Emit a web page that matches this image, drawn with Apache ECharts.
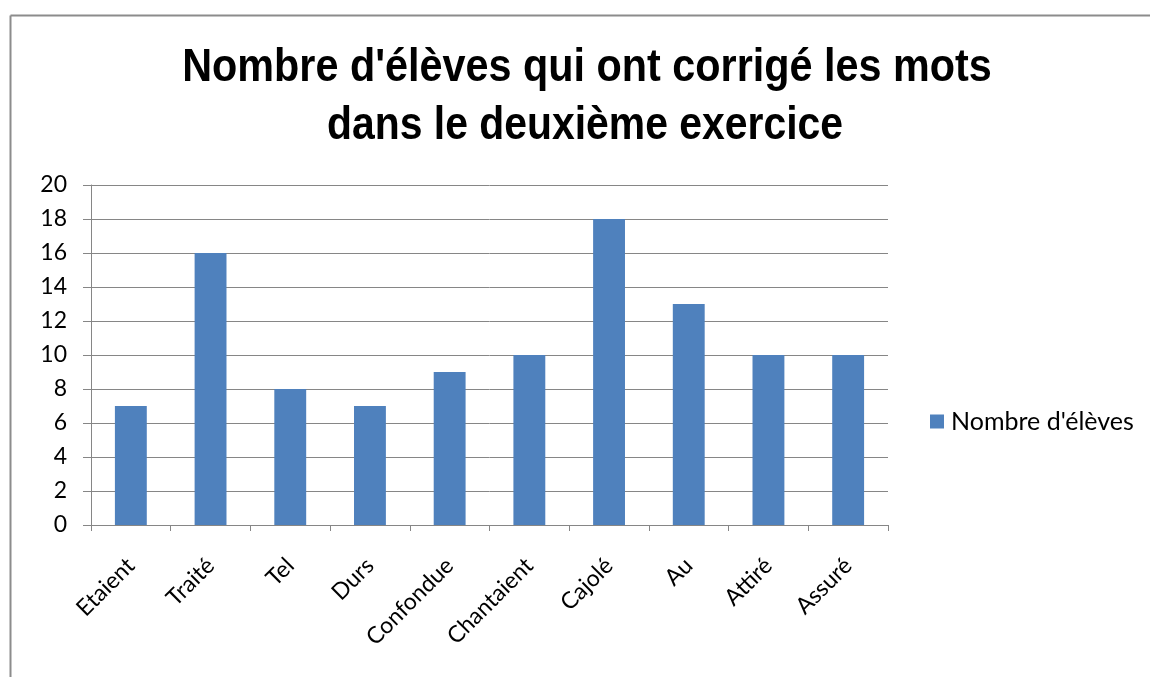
<!DOCTYPE html>
<html>
<head>
<meta charset="utf-8">
<script src="https://cdn.jsdelivr.net/npm/echarts@6/dist/echarts.min.js"></script>
<style>
  html, body { margin: 0; padding: 0; background: #fff; }
  #main { width: 1150px; height: 677px; }
</style>
</head>
<body>
<div id="main"></div>
<script>
// mots de l'exercice
var mots = ['Etaient', 'Traité', 'Tel', 'Durs', 'Confondue', 'Chantaient', 'Cajolé', 'Au', 'Attiré', 'Assuré'];
// nombre d'élèves par mot
var nbEleves = [7, 16, 8, 7, 9, 10, 18, 13, 10, 10];
var yTicks = [0, 2, 4, 6, 8, 10, 12, 14, 16, 18, 20];
var titre = ["Nombre d'élèves qui ont corrigé les mots", 'dans le deuxième exercice'];

var myChart = echarts.init(document.getElementById('main'));
var grisAxe = '#868686';
var police = 'Lato, "Open Sans", sans-serif';
var policeTitre = '"Liberation Sans", Arial, sans-serif';

var option = {
    animation: false,
    legend: {
        data: ["Nombre d'élèves"],
        orient: 'vertical',
        left: 930,
        top: 409,
        padding: 0,
        itemWidth: 14,
        itemHeight: 14,
        icon: 'rect',
        textStyle: { fontFamily: police, fontSize: 25, color: '#000', padding: [0, 0, 0, 2] }
    },
    grid: { left: 91, right: 262, top: 185, bottom: 152 },
    xAxis: {
        type: 'category',
        data: mots,
        axisLine: { lineStyle: { color: grisAxe, width: 1 } },
        axisTick: { show: true, length: 6, lineStyle: { color: grisAxe } },
        axisLabel: {
            rotate: 45,
            margin: 37,
            align: 'right',
            verticalAlign: 'middle',
            fontFamily: police,
            fontSize: 23,
            color: '#000'
        }
    },
    yAxis: {
        type: 'value',
        min: 0,
        max: 20,
        interval: 2,
        axisLine: { show: true, lineStyle: { color: grisAxe, width: 1 } },
        axisTick: { show: true, inside: false, length: 8, lineStyle: { color: grisAxe } },
        splitLine: { show: true, lineStyle: { color: grisAxe, width: 1 } },
        axisLabel: {
            margin: 24,
            fontFamily: police,
            fontSize: 23,
            color: '#000',
            formatter: function (v) { return yTicks.indexOf(v) >= 0 ? String(v) : ''; }
        }
    },
    series: [{
        name: "Nombre d'élèves",
        type: 'bar',
        data: nbEleves,
        barWidth: '40%',
        itemStyle: { color: '#4f81bd' }
    }],
    graphic: [
        { type: 'line', shape: { x1: 10.5, y1: 15.5, x2: 1150, y2: 15.5 }, style: { stroke: '#8c8c8c', lineWidth: 2 } },
        { type: 'line', shape: { x1: 10.5, y1: 15.5, x2: 10.5, y2: 677 }, style: { stroke: '#8c8c8c', lineWidth: 2 } },
        {
            type: 'text', x: 587, y: 68, scaleX: 0.88,
            style: { text: titre[0], fontFamily: policeTitre, fontWeight: 'bold', fontSize: 47, fill: '#000', align: 'center', verticalAlign: 'middle' }
        },
        {
            type: 'text', x: 585, y: 126, scaleX: 0.87,
            style: { text: titre[1], fontFamily: policeTitre, fontWeight: 'bold', fontSize: 47, fill: '#000', align: 'center', verticalAlign: 'middle' }
        }
    ]
};
myChart.setOption(option);
</script>
</body>
</html>
